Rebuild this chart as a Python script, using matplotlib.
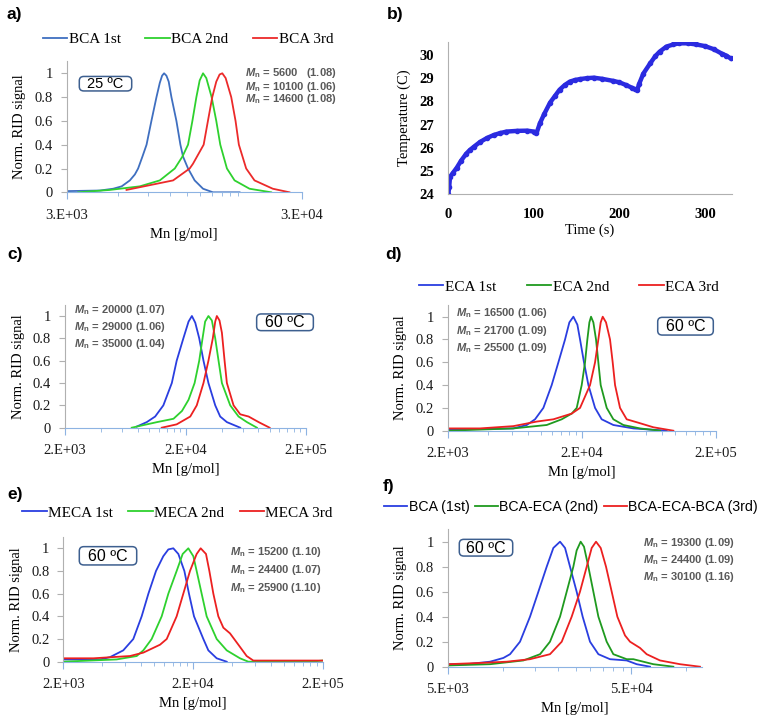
import matplotlib
matplotlib.use('Agg')
import matplotlib.pyplot as plt
from matplotlib.patches import FancyBboxPatch

plt.rcParams['mathtext.fontset'] = 'custom'
plt.rcParams['mathtext.it'] = 'Liberation Sans:italic:bold'
plt.rcParams['mathtext.rm'] = 'Liberation Sans:bold'

W, H = 764, 719

# ---- data ----
# a) BCA, 25 C
a_labels = ['BCA 1st', 'BCA 2nd', 'BCA 3rd']
a_x1 = [3000, 4160, 4730, 5140, 5570, 5850, 6040, 6300, 6560, 6880, 7230, 7470, 7640, 7790,
        7970, 8150, 8370, 8790, 9140, 9380, 9850, 10510, 11410, 12570, 16320]
a_y1 = [0.01, 0.015, 0.03, 0.05, 0.10, 0.15, 0.20, 0.30, 0.40, 0.60, 0.80, 0.92, 0.98, 1.0,
        0.98, 0.93, 0.80, 0.60, 0.40, 0.30, 0.20, 0.10, 0.03, 0.0, 0.0]
a_x2 = [3360, 4580, 6140, 7470, 8650, 9320, 9850, 10280, 10690, 11040, 11410, 11780, 12410,
        12990, 13510, 14420, 15540, 17990, 22240]
a_y2 = [0.0, 0.02, 0.05, 0.10, 0.20, 0.30, 0.40, 0.60, 0.80, 0.94, 1.0, 0.96, 0.80, 0.60,
        0.40, 0.20, 0.10, 0.03, 0.0]
a_x3 = [5390, 6770, 8510, 9380, 10010, 10340, 11480, 11970, 12490, 12990, 13420, 13780, 14240,
        15040, 15690, 16210, 17410, 18890, 22600, 26600]
a_y3 = [0.02, 0.06, 0.10, 0.16, 0.20, 0.24, 0.40, 0.60, 0.80, 0.93, 0.99, 1.0, 0.96, 0.80,
        0.60, 0.40, 0.20, 0.10, 0.03, 0.0]
a_mn = ['5600   (1.08)', '10100 (1.06)', '14600 (1.08)']

# b) temperature
b_t = [0, 1, 2, 5, 10, 15, 21, 25, 30, 37, 45, 53, 60, 68, 80, 92, 100, 103, 107, 112, 119,
       125, 130, 136, 142, 148, 154, 162, 170, 180, 193, 200, 208, 215, 218, 221, 223, 228,
       236, 242, 247, 255, 263, 270, 280, 290, 300, 310, 320, 325, 330]
b_temp = [24.0, 24.3, 24.75, 24.9, 25.15, 25.45, 25.75, 25.9, 26.05, 26.25, 26.42, 26.55, 26.63,
          26.7, 26.73, 26.74, 26.7, 26.62, 27.05, 27.45, 27.95, 28.25, 28.5, 28.7, 28.85, 28.92,
          28.96, 29.0, 29.02, 28.97, 28.88, 28.82, 28.7, 28.58, 28.52, 28.5, 28.75, 29.2, 29.64,
          29.95, 30.14, 30.36, 30.45, 30.5, 30.5, 30.45, 30.38, 30.25, 30.05, 29.97, 29.85]

# c) 60 C
c_x1 = [7880, 9540, 11200, 13100, 15400, 16900, 19200, 21200, 22600, 24100, 26000, 28200,
        31000, 35300, 38800, 44100, 56900]
c_y1 = [0.01, 0.05, 0.10, 0.20, 0.40, 0.60, 0.80, 0.95, 1.0, 0.94, 0.80, 0.60, 0.40, 0.20,
        0.10, 0.05, 0.0]
c_x2 = [7160, 11600, 15900, 18700, 21200, 23800, 26000, 27700, 29100, 31000, 33100, 35300,
        37600, 40100, 47000, 55100, 64700, 78300]
c_y2 = [0.0, 0.05, 0.08, 0.15, 0.25, 0.40, 0.60, 0.80, 0.95, 1.0, 0.96, 0.80, 0.60, 0.40,
        0.20, 0.10, 0.05, 0.0]
c_x3 = [12700, 16900, 21900, 24800, 28200, 31000, 33700, 35300, 36400, 38300, 40100, 42200,
        44100, 50100, 56900, 66800, 80900, 99800]
c_y3 = [0.0, 0.03, 0.10, 0.20, 0.40, 0.60, 0.80, 0.95, 1.0, 0.96, 0.85, 0.60, 0.40, 0.20,
        0.12, 0.10, 0.05, 0.0]
c_mn = ['20000 (1.07)', '29000 (1.06)', '35000 (1.04)']

# d) ECA
d_labels = ['ECA 1st', 'ECA 2nd', 'ECA 3rd']
d_x1 = [2000, 6180, 7780, 8970, 10350, 11940, 13400, 15020, 16180, 17340, 18570, 19440, 20800,
        22440, 25160, 28200, 34460, 48600, 86160]
d_y1 = [0.01, 0.02, 0.05, 0.10, 0.20, 0.40, 0.60, 0.80, 0.95, 1.0, 0.93, 0.80, 0.60, 0.40,
        0.20, 0.10, 0.05, 0.02, 0.0]
d_x2 = [2000, 6180, 10960, 14180, 16840, 18360, 20000, 21180, 22040, 22820, 23480, 24440,
        25580, 26620, 27720, 30740, 34460, 40920, 54460, 76880]
d_y2 = [0.0, 0.02, 0.05, 0.10, 0.15, 0.20, 0.40, 0.60, 0.80, 0.95, 1.0, 0.95, 0.80, 0.60,
        0.40, 0.20, 0.10, 0.05, 0.02, 0.0]
d_x3 = [2000, 3480, 6180, 9230, 12300, 16840, 19440, 21180, 23080, 25160, 26620, 27720, 28700,
        30380, 32540, 34060, 35480, 38640, 43340, 52960, 68540, 96600]
d_y3 = [0.02, 0.02, 0.04, 0.08, 0.10, 0.15, 0.20, 0.30, 0.40, 0.60, 0.80, 0.95, 1.0, 0.95,
        0.80, 0.60, 0.40, 0.20, 0.10, 0.07, 0.03, 0.0]
d_mn = ['16500 (1.06)', '21700 (1.09)', '25500 (1.09)']

# e) MECA
e_labels = ['MECA 1st', 'MECA 2nd', 'MECA 3rd']
e_x1 = [2000, 3840, 4580, 5800, 6930, 8040, 9060, 10370, 11800, 12910, 14100, 15420, 17160,
        18620, 20360, 24040, 26260, 30460, 36380]
e_y1 = [0.02, 0.02, 0.04, 0.10, 0.20, 0.40, 0.60, 0.80, 0.93, 0.99, 1.0, 0.95, 0.80, 0.60,
        0.40, 0.20, 0.10, 0.03, 0.0]
e_x2 = [2000, 5150, 7360, 8280, 9600, 11470, 12910, 14960, 16650, 18410, 20120, 21340, 23320,
        25490, 30460, 36380, 46050, 53420, 159600, 200000]
e_y2 = [0.0, 0.02, 0.05, 0.10, 0.20, 0.40, 0.60, 0.80, 0.95, 1.0, 0.93, 0.80, 0.60, 0.40,
        0.20, 0.10, 0.03, 0.0, 0.0, 0.01]
e_x3 = [2000, 3410, 6530, 8280, 11140, 12540, 14960, 16840, 18960, 21340, 22920, 25190, 26740,
        28700, 31360, 34270, 38570, 44750, 51860, 58380, 200000]
e_y3 = [0.03, 0.03, 0.05, 0.08, 0.15, 0.20, 0.40, 0.60, 0.80, 0.95, 1.0, 0.95, 0.80, 0.60,
        0.40, 0.30, 0.25, 0.15, 0.05, 0.01, 0.01]
e_mn = ['15200 (1.10)', '24400 (1.07)', '25900 (1.10)']

# f) block copolymer
f_labels = ['BCA (1st)', 'BCA-ECA (2nd)', 'BCA-ECA-BCA (3rd)']
f_x1 = [5000, 6350, 8510, 10060, 10940, 12400, 14060, 15620, 17340, 18850, 20500, 21830, 23240,
        25260, 27240, 29870, 33190, 38390, 47370, 53690, 63460]
f_y1 = [0.02, 0.02, 0.04, 0.07, 0.10, 0.20, 0.40, 0.60, 0.80, 0.95, 1.0, 0.95, 0.80, 0.60,
        0.40, 0.20, 0.10, 0.06, 0.05, 0.02, 0.0]
f_x2 = [5000, 8510, 12940, 15950, 18070, 20500, 22290, 24230, 25260, 26560, 27700, 29260, 31160,
        33190, 36830, 40040, 47370, 51500, 58370, 66170, 85090]
f_y2 = [0.01, 0.02, 0.05, 0.10, 0.20, 0.40, 0.60, 0.80, 0.93, 1.0, 0.96, 0.80, 0.60, 0.40,
        0.20, 0.10, 0.06, 0.06, 0.04, 0.02, 0.0]
f_x3 = [5000, 7500, 10490, 14060, 18070, 20940, 23730, 26340, 28660, 30510, 32220, 34170, 36530,
        39230, 42120, 46370, 49380, 55990, 60860, 71950, 92500, 118900]
f_y3 = [0.02, 0.03, 0.04, 0.06, 0.10, 0.20, 0.40, 0.60, 0.80, 0.95, 1.0, 0.95, 0.80, 0.60,
        0.40, 0.25, 0.20, 0.15, 0.10, 0.05, 0.02, 0.0]
f_mn = ['19300 (1.09)', '24400 (1.09)', '30100 (1.16)']

SERIF = 'Liberation Serif'
SANS = 'Liberation Sans'
AXBLUE = '#8db3e2'
AXGRAY = '#b0b0b0'


def rect(x0, x1, yb, yt):
    return [x0 / W, 1 - yb / H, (x1 - x0) / W, (yb - yt) / H]


def fx(x):
    return x / W


def fy(y):
    return 1 - y / H


def gpc_axes(x0, x1, y0, y1, xlim, majors, major_lab, minors):
    top = y0 - 1.1 * (y0 - y1)
    ax = fig.add_axes(rect(x0, x1, y0, top))
    ax.set_xscale('log')
    ax.set_xlim(*xlim)
    ax.set_ylim(0, 1.1)
    for s in ['top', 'right']:
        ax.spines[s].set_visible(False)
    ax.spines['bottom'].set_color(AXBLUE)
    ax.spines['left'].set_color(AXGRAY)
    ax.set_xticks(majors)
    ax.set_xticklabels(major_lab)
    ax.set_xticks(minors, minor=True)
    ax.set_xticklabels([], minor=True)
    ax.set_yticks([0, 0.2, 0.4, 0.6, 0.8, 1.0])
    ax.set_yticklabels(['0', '0.2', '0.4', '0.6', '0.8', '1'])
    ax.tick_params(axis='x', which='both', color=AXBLUE, direction='out')
    ax.tick_params(axis='x', which='major', length=5, pad=7)
    ax.tick_params(axis='x', which='minor', length=3)
    ax.tick_params(axis='y', color=AXGRAY, length=4, pad=6)
    for t in ax.get_xticklabels() + ax.get_yticklabels():
        t.set_fontfamily(SERIF)
        t.set_fontsize(10.5)
        t.set_color('#1a1a1a')
    ax.set_xlabel('Mn [g/mol]', family=SERIF, fontsize=10.5, labelpad=4)
    ax.set_ylabel('Norm. RID signal', family=SERIF, fontsize=10.5, labelpad=6)
    return ax


def mn_text(x, ys, vals):
    for y, v in zip(ys, vals):
        fig.text(fx(x), fy(y), r'$M_{\mathrm{n}}$ = ' + v, fontsize=8, color='#595959',
                 family=SANS, weight='bold', va='center', ha='left')


def temp_box(x, y, w, h, s, size):
    # rounded box drawn in pixel size, text centred in it
    box = FancyBboxPatch((fx(x - w / 2), fy(y + h / 2)), w / W, h / H,
                         boxstyle='round,pad=0,rounding_size=0.006', transform=fig.transFigure,
                         fc='white', ec='#3d5f8f', lw=1.1, zorder=5)
    fig.patches.append(box)
    fig.text(fx(x), fy(y + 0.5), s, fontsize=size, family=SANS, ha='center', va='center',
             zorder=6)


def legend(ax, lines, labels, cx, cy, fam, size, colsp):
    ax.legend(lines, labels, loc='center', bbox_to_anchor=(fx(cx), fy(cy)),
              bbox_transform=fig.transFigure, ncol=3, frameon=False,
              prop={'family': fam, 'size': size}, handlelength=1.6, handletextpad=0.1,
              columnspacing=colsp, borderaxespad=0, borderpad=0)


fig = plt.figure(figsize=(W / 100, H / 100), dpi=100)

dec2 = [4000, 6000, 8000, 10000, 12000, 14000, 16000, 18000,
        40000, 60000, 80000, 100000, 120000, 140000, 160000, 180000]

# a)
ax = gpc_axes(66.7, 301.7, 192.3, 73.3, (3000, 30000), [3000, 30000], ['3.E+03', '3.E+04'],
              [4950, 6630, 8250, 9720, 11070, 12420, 13710, 14850, 16020])
la = ax.plot(a_x1, a_y1, color='#3f6fc0', lw=1.3)[0]
lb = ax.plot(a_x2, a_y2, color='#2ed12e', lw=1.3)[0]
lc = ax.plot(a_x3, a_y3, color='#ec2a2a', lw=1.3)[0]
legend(ax, [la, lb, lc], a_labels, 188, 39.5, SERIF, 11, 1.6)
mn_text(245, [73.3, 86.5, 99.5], a_mn)
temp_box(105.5, 83.7, 52.4, 14.5, '25 ºC', 10.5)

# b)
ax = fig.add_axes(rect(448.3, 731.5, 194.3, 41.7))
ax.plot(b_t, b_temp, color='#2b2be0', lw=3.2, marker='o', ms=3)
ax.set_xlim(0, 331)
ax.set_ylim(24, 30.57)
ax.set_xticks([0, 100, 200, 300])
ax.set_yticks([24, 25, 26, 27, 28, 29, 30])
for s in ['top', 'right']:
    ax.spines[s].set_visible(False)
for s in ['left', 'bottom']:
    ax.spines[s].set_color(AXGRAY)
ax.tick_params(length=0, pad=10)
for t in ax.get_xticklabels() + ax.get_yticklabels():
    t.set_fontfamily(SERIF)
    t.set_fontsize(10.5)
    t.set_weight('bold')
ax.set_xlabel('Time (s)', family=SERIF, fontsize=10.5, labelpad=2)
ax.set_ylabel('Temperature (C)', family=SERIF, fontsize=10.5, labelpad=6)

# c)
ax = gpc_axes(65, 306, 427.7, 316, (2000, 200000), [2000, 20000, 200000],
              ['2.E+03', '2.E+04', '2.E+05'], dec2)
ax.plot(c_x1, c_y1, color='#2a3ee0', lw=1.3)
ax.plot(c_x2, c_y2, color='#2ed12e', lw=1.3)
ax.plot(c_x3, c_y3, color='#ec2020', lw=1.3)
mn_text(74, [310, 327.3, 344], c_mn)
temp_box(285, 322.3, 56.7, 16.7, '60 ºC', 11.5)

# d)
ax = gpc_axes(447.7, 715.7, 430.7, 316.7, (2000, 200000), [2000, 20000, 200000],
              ['2.E+03', '2.E+04', '2.E+05'], dec2)
la = ax.plot(d_x1, d_y1, color='#2a3ee0', lw=1.3)[0]
lb = ax.plot(d_x2, d_y2, color='#1f9a1f', lw=1.3)[0]
lc = ax.plot(d_x3, d_y3, color='#ec2020', lw=1.3)[0]
legend(ax, [la, lb, lc], d_labels, 569, 286.7, SERIF, 11, 2.0)
mn_text(456, [313.3, 330.7, 348.3], d_mn)
temp_box(685.5, 326.2, 55.6, 17.7, '60 ºC', 11.5)

# e)
ax = gpc_axes(63.3, 322.7, 661.7, 548.3, (2000, 200000), [2000, 20000, 200000],
              ['2.E+03', '2.E+04', '2.E+05'], dec2)
la = ax.plot(e_x1, e_y1, color='#2a3ee0', lw=1.3)[0]
lb = ax.plot(e_x2, e_y2, color='#2ed12e', lw=1.3)[0]
lc = ax.plot(e_x3, e_y3, color='#ec2020', lw=1.3)[0]
legend(ax, [la, lb, lc], e_labels, 177.5, 513, SERIF, 11, 1.0)
mn_text(230, [551.7, 570, 588.3], e_mn)
temp_box(108, 555.8, 57.4, 18.3, '60 ºC', 11.5)

# f)
ax = gpc_axes(447.7, 701.7, 666.7, 541.7, (5000, 121500), [5000, 50000], ['5.E+03', '5.E+04'],
              [10000, 15000, 20000, 25000, 30000, 35000, 40000, 45000, 100000])
la = ax.plot(f_x1, f_y1, color='#2a3ee0', lw=1.3)[0]
lb = ax.plot(f_x2, f_y2, color='#1f9a1f', lw=1.3)[0]
lc = ax.plot(f_x3, f_y3, color='#ec2020', lw=1.3)[0]
legend(ax, [la, lb, lc], f_labels, 571, 506.7, SANS, 10.2, 0.4)
mn_text(643.3, [543.3, 560, 576.7], f_mn)
temp_box(486, 547.7, 53.4, 16.7, '60 ºC', 11.5)

# panel letters
for s, x, y in [('a)', 7, 15), ('b)', 387, 15), ('c)', 7, 255), ('d)', 385, 255),
                ('e)', 7, 494), ('f)', 383, 487)]:
    fig.text(fx(x), fy(y), s, fontsize=12.5, weight='bold', family=SANS, va='center')

fig.savefig('out.png', dpi=100)
